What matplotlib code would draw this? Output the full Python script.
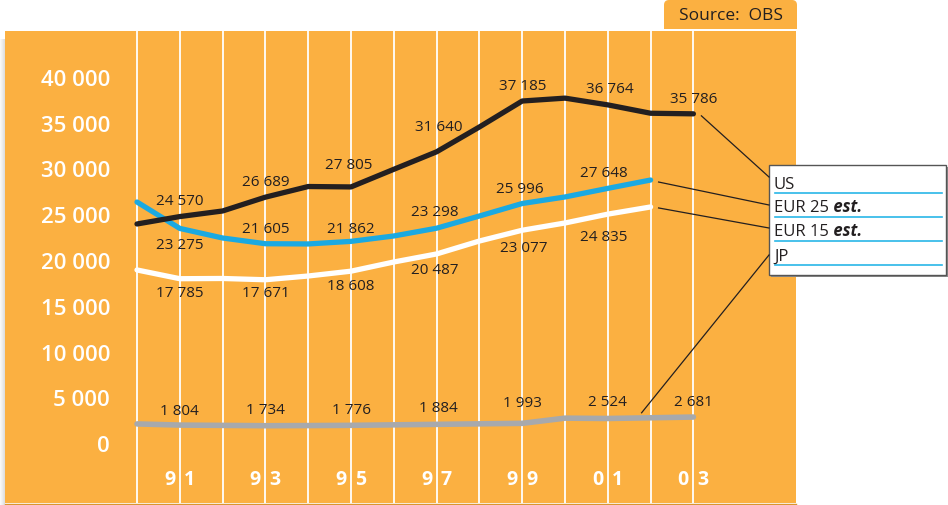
import numpy as np
import matplotlib.pyplot as plt
from matplotlib.patches import Rectangle, FancyBboxPatch

plt.rcParams['font.family'] = ['Open Sans', 'DejaVu Sans']

# data
years = np.arange(1990, 2004)
us = [23760, 24570, 25180, 26689, 27850, 27805, 29730, 31640, 34350, 37185, 37500, 36764, 35850, 35786]
eur_years = np.arange(1990, 2003)
eur25 = [26160, 23275, 22230, 21605, 21580, 21862, 22450, 23298, 24630, 25996, 26710, 27648, 28560]
eur15 = [18740, 17785, 17810, 17671, 18080, 18608, 19610, 20487, 21900, 23077, 23870, 24835, 25620]
jp = [1930, 1804, 1770, 1734, 1750, 1776, 1830, 1884, 1940, 1993, 2560, 2524, 2600, 2681]

label_years_us = [1991, 1993, 1995, 1997, 1999, 2001, 2003]
label_years_eur = [1991, 1993, 1995, 1997, 1999, 2001]
label_years_jp = [1991, 1993, 1995, 1997, 1999, 2001, 2003]

yticks = [0, 5000, 10000, 15000, 20000, 25000, 30000, 35000, 40000]
xtick_years = [1991, 1993, 1995, 1997, 1999, 2001, 2003]
legend_names = ['US', 'EUR 25', 'EUR 15', 'JP']
legend_est = ['', 'est.', 'est.', '']

# label offsets in pixels (dx, dy with y down)
off_us = [(0, -16), (0, -16), (-2, -22), (2, -25), (0, -16), (2, -16), (0, -15)]
off_eur25 = [(0, 16), (0, -15), (0, -13), (-2, -17), (-2, -15), (-4, -16)]
off_eur15 = [(0, 14), (0, 13), (0, 14), (-2, 16), (2, 17), (-4, 22)]
off_jp = [(0, -15), (0, -16), (0, -16), (2, -17), (0, -21), (0, -17), (0, -16)]

ORANGE = '#FBB041'
BLUE = '#1BA9E1'
BLACK = '#231F20'
GREY = '#A7A9AC'

W, H = 948, 506
fig = plt.figure(figsize=(W / 100, H / 100), dpi=100)
fig.patch.set_facecolor('white')

# plot area in pixels: x 5..796, y 32..504
ax = fig.add_axes([5 / W, (H - 504) / H, 791 / W, 472 / H])
ax.set_facecolor(ORANGE)
x0 = 1990 - 132 / 42.8
x1 = 1990 + 659 / 42.8
ax.set_xlim(x0, x1)
ax.set_ylim(-(504 - 442.6) / 0.009159, (442.6 - 32) / 0.009159)
for s in ax.spines.values():
    s.set_visible(False)
ax.set_xticks([])
ax.set_yticks([])

for yr in years:
    ax.axvline(yr, color='white', lw=1.3, zorder=1)

ax.plot(years, jp, color=GREY, lw=4, solid_capstyle='round', zorder=3)
ax.plot(eur_years, eur15, color='white', lw=3.8, solid_capstyle='round', zorder=3)
ax.plot(eur_years, eur25, color=BLUE, lw=3.8, solid_capstyle='round', zorder=4)
ax.plot(years, us, color=BLACK, lw=3.8, solid_capstyle='round', zorder=5)


def fmt(v):
    return f"{v:,}".replace(',', ' ')


def put_labels(xs, ys, lyears, offs):
    for yr, (dx, dy) in zip(lyears, offs):
        i = list(xs).index(yr)
        ax.annotate(fmt(ys[i]), (yr, ys[i]), xytext=(dx * 0.72, -dy * 0.72),
                    textcoords='offset points', ha='center', va='center',
                    fontsize=11, color=BLACK, zorder=6)


put_labels(years, us, label_years_us, off_us)
put_labels(eur_years, eur25, label_years_eur, off_eur25)
put_labels(eur_years, eur15, label_years_eur, off_eur15)
put_labels(years, jp, label_years_jp, off_jp)

# y tick labels
for v in yticks:
    ax.annotate(fmt(v), (105 / 791, v), xycoords=('axes fraction', 'data'),
                xytext=(0, -3), textcoords='offset points', ha='right', va='center',
                fontsize=16, fontweight='semibold', color='white')

# year labels split around the white line
for yr in xtick_years:
    s = f"{yr % 100:02d}"
    ax.annotate(s[0], (yr, 24 / 472), xycoords=('data', 'axes fraction'),
                xytext=(-3.3, 0), textcoords='offset points', ha='right', va='center',
                fontsize=14, fontweight='bold', color='white')
    ax.annotate(s[1], (yr, 24 / 472), xycoords=('data', 'axes fraction'),
                xytext=(3.0, 0), textcoords='offset points', ha='left', va='center',
                fontsize=14, fontweight='bold', color='white')

# overlay in pixel coordinates
ov = fig.add_axes([0, 0, 1, 1], zorder=10)
ov.set_xlim(0, W)
ov.set_ylim(H, 0)
ov.axis('off')
ov.patch.set_alpha(0)

# left shadow
for i, a in enumerate(np.linspace(0.05, 0.25, 5)):
    ov.add_patch(Rectangle((i, 40), 1, 466, color='grey', alpha=a, lw=0))
ov.plot([5, 796], [504.5, 504.5], color='#D9962F', lw=1)

# source tab
ov.add_patch(FancyBboxPatch((664, 1), 133, 29, boxstyle='round,pad=0,rounding_size=5',
                            fc=ORANGE, ec='none'))
ov.add_patch(Rectangle((664, 18), 133, 12, fc=ORANGE, ec='none'))
ov.text(731, 16, 'Source:  OBS', ha='center', va='center', fontsize=12.5, color=BLACK)


def to_px(xd, yd):
    p = ax.transData.transform((xd, yd))
    return ov.transData.inverted().transform(p)


# legend box
ov.add_patch(Rectangle((771, 168), 177, 110, fc='#8A8A8A', ec='none'))
ov.add_patch(Rectangle((769, 166), 177, 110, fc='white', ec='#555555', lw=1))
baselines = [188.5, 212.5, 236.5, 260.5]
for name, est, yb in zip(legend_names, legend_est, baselines):
    t = ov.text(774, yb, name, ha='left', va='baseline', fontsize=12, color=BLACK)
    if est:
        ov.annotate(' ' + est, (1, 0), xycoords=t, ha='left', va='bottom',
                    fontsize=12, fontweight='bold', fontstyle='italic', color=BLACK)
    ov.plot([775, 942], [yb + 5.5, yb + 5.5], color='#29B6E8', lw=1.2)

# leader lines
ends = [(years[-1], us[-1], 8, 2), (eur_years[-1], eur25[-1], 8, 2),
        (eur_years[-1], eur15[-1], 8, 1), (eur_years[-1], jp[-2], -9, -5)]
targets = [(769, 178), (769, 206), (769, 229), (769, 256)]
for (xd, yd, dx, dy), (tx, ty) in zip(ends, targets):
    px, py = to_px(xd, yd)
    ov.plot([px + dx, tx], [py + dy, ty], color=BLACK, lw=0.9)

fig.savefig('out.png', dpi=100)
